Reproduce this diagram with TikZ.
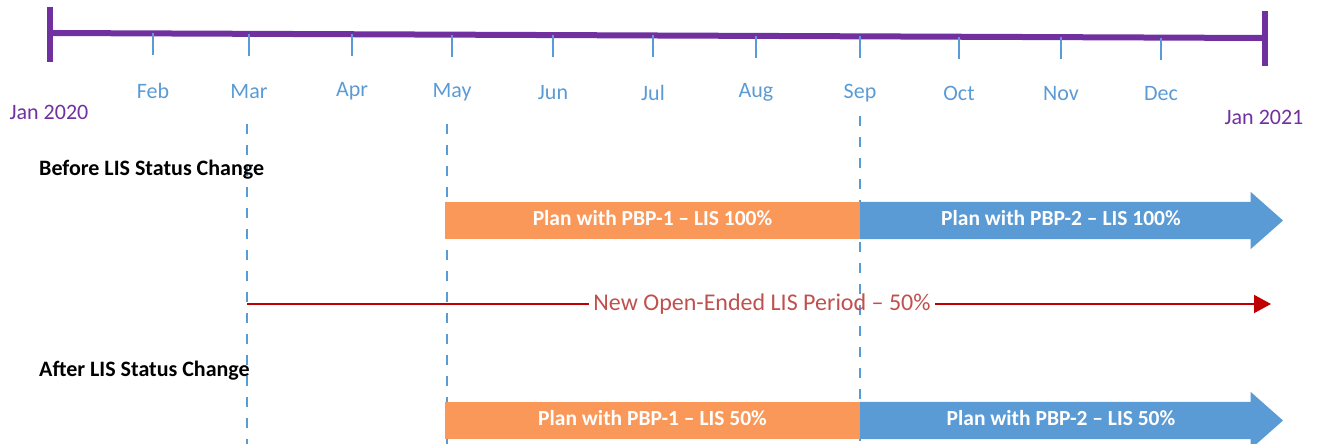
\documentclass[tikz,border=0pt]{standalone}
\usepackage{fontspec}
\setmainfont{Carlito}
\usetikzlibrary{arrows.meta,shapes.arrows}
\definecolor{tlpurple}{RGB}{112,48,160}
\definecolor{tlblue}{RGB}{91,155,213}
\definecolor{planorange}{RGB}{250,152,90}
\definecolor{lisred}{RGB}{192,0,0}
\definecolor{listext}{RGB}{192,80,77}
\tikzset{
  month/.style={text=tlblue,font=\fontsize{22}{26}\selectfont},
  year/.style={text=tlpurple,font=\fontsize{22}{26}\selectfont},
  rowlabel/.style={anchor=west,inner sep=0pt,font=\bfseries\fontsize{22}{26}\selectfont},
  tick/.style={tlblue,line width=1.2pt},
  guide/.style={tlblue,line width=1.5pt,dash pattern=on 10pt off 11pt},
  planbar/.style={fill=planorange,anchor=west,minimum width=415pt,minimum height=37pt,
    text height=14pt,text depth=4pt,inner sep=0pt,outer sep=0pt,text=white,
    font=\bfseries\fontsize{21.5}{24}\selectfont},
  planarrow/.style={single arrow,fill=tlblue,anchor=tail,minimum height=423pt,
    single arrow head extend=10pt,single arrow tip angle=83,text height=14pt,text depth=4pt,
    inner ysep=9.5pt,inner xsep=0pt,outer sep=0pt,text=white,
    font=\bfseries\fontsize{21.5}{24}\selectfont}
}
\begin{document}
\begin{tikzpicture}[x=1pt,y=-1pt]
\useasboundingbox (0,0) rectangle (1317,444);
% timeline
\coordinate (start) at (50,33);
\coordinate (end) at (1265,38);
\draw [tlpurple,line width=6pt] (start) -- (end);
\draw [tlpurple,line width=6pt] (50,7) -- (50,62);
\draw [tlpurple,line width=6pt] (1265,11) -- (1265,66);
\foreach \x/\m in {153/Feb,249/Mar,352/Apr,452/May,553/Jun,653/Jul,756/Aug,860/Sep,959/Oct,1061/Nov,1161/Dec}{
  \coordinate (t\m) at (\x,{33+(\x-50)*5/1215});
  \draw [tick] (t\m) -- ++(0,22);
  \node [month] (m\m) at (\x,{91+(\x-153)*3/1008}) {\m};
}
\node [year] (jan20) at (49,112) {Jan 2020};
\node [year] (jan21) at (1264,117) {Jan 2021};
% guides
\coordinate (gmar) at (247,124);
\coordinate (gmay) at (447,124);
\coordinate (gsep) at (860,116);
\draw [guide] (gmar) -- (247,444);
\draw [guide] (gmay) -- (447,444);
\draw [guide] (gsep) -- (860,444);
% before
\node [rowlabel] (before) at (39,170) {Before LIS Status Change};
\node [planbar] (pbp1a) at (445,220.5) {Plan with PBP-1 -- LIS 100\%};
\node [planarrow] (pbp2a) at (860,220.5) {Plan with PBP-2 -- LIS 100\%};
% new LIS period
\coordinate (lisstart) at (247,304);
\coordinate (lisend) at (1271,304);
\node [text=listext,font=\fontsize{24}{28}\selectfont,inner xsep=4pt] (period) at (762,304) {New Open-Ended LIS Period -- 50\%};
\draw [lisred,line width=2pt] (lisstart) -- (period.west);
\draw [lisred,line width=2pt,-{Triangle[length=17pt,width=18pt]}] (period.east) -- (lisend);
% after
\node [rowlabel] (after) at (39,371) {After LIS Status Change};
\node [planbar] (pbp1b) at (445,420.5) {Plan with PBP-1 -- LIS 50\%};
\node [planarrow] (pbp2b) at (860,420.5) {Plan with PBP-2 -- LIS 50\%};
\end{tikzpicture}
\end{document}
